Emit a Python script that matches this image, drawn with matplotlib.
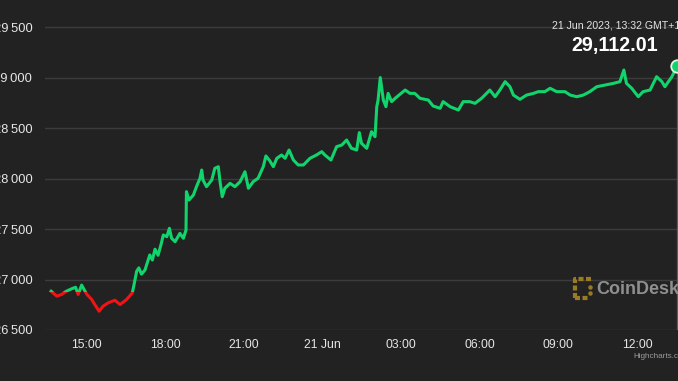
import matplotlib
matplotlib.use("Agg")
import matplotlib.pyplot as plt
import matplotlib.dates as mdates
from matplotlib.patches import Rectangle
import pandas as pd

# BTC price, 20-21 Jun 2023
times_20jun = ["13:38", "13:51", "14:02", "14:13", "14:25", "14:34", "14:40", "14:48", "14:55", "15:00",
               "15:11", "15:18", "15:28", "15:37", "15:49", "16:04", "16:16", "16:31", "16:44", "16:48",
               "16:54", "16:59", "17:05", "17:13", "17:24", "17:30", "17:36", "17:43", "17:50", "17:55",
               "18:03", "18:09", "18:14", "18:22", "18:33", "18:41", "18:47", "18:48", "18:54", "19:04",
               "19:11", "19:19", "19:23", "19:26", "19:34", "19:46", "19:53", "20:01", "20:05", "20:10",
               "20:16", "20:28", "20:39", "20:51", "21:02", "21:10", "21:21", "21:32", "21:44", "21:50",
               "21:59", "22:07", "22:15", "22:26", "22:34", "22:43", "22:53", "23:04", "23:16", "23:31",
               "23:46", "23:58"]
prices_20jun = [26884, 26835, 26852, 26884, 26908, 26923, 26852, 26945, 26889, 26852,
                26802, 26752, 26686, 26736, 26769, 26795, 26752, 26802, 26868, 26950,
                27082, 27115, 27053, 27094, 27243, 27193, 27300, 27240, 27350, 27441,
                27424, 27507, 27408, 27374, 27457, 27408, 27490, 27870, 27787, 27837,
                27919, 28002, 28084, 27985, 27919, 27985, 28101, 28117, 27969, 27820,
                27903, 27952, 27919, 27969, 28067, 27903, 27969, 28002, 28117, 28223,
                28175, 28117, 28200, 28233, 28200, 28282, 28183, 28134, 28134, 28200,
                28233, 28266]
times_21jun = ["00:05", "00:19", "00:32", "00:44", "00:55", "01:06", "01:18", "01:24", "01:29", "01:41",
               "01:52", "02:00", "02:04", "02:07", "02:12", "02:19", "02:25", "02:30", "02:38", "02:46",
               "02:55", "03:09", "03:20", "03:31", "03:43", "04:02", "04:13", "04:29", "04:36", "04:52",
               "05:11", "05:22", "05:37", "05:49", "06:04", "06:23", "06:35", "06:46", "06:58", "07:09",
               "07:17", "07:32", "07:47", "08:03", "08:14", "08:29", "08:41", "08:56", "09:15", "09:27",
               "09:42", "09:57", "10:12", "10:28", "10:47", "11:06", "11:21", "11:30", "11:36", "11:48",
               "12:03", "12:14", "12:30", "12:45", "12:57", "13:04", "13:12", "13:20", "13:32"]
prices_21jun = [28233, 28183, 28315, 28332, 28381, 28299, 28282, 28454, 28348, 28299,
                28464, 28414, 28711, 28777, 29000, 28777, 28711, 28843, 28761, 28794,
                28826, 28876, 28843, 28843, 28794, 28777, 28718, 28695, 28761, 28711,
                28678, 28761, 28761, 28744, 28794, 28876, 28810, 28876, 28959, 28909,
                28826, 28784, 28826, 28843, 28860, 28860, 28893, 28860, 28860, 28826,
                28810, 28826, 28860, 28909, 28926, 28942, 28959, 29074, 28942, 28893,
                28810, 28860, 28876, 29008, 28959, 28909, 28959, 29008, 29112.01]
open_price = 26875  # colour switches green/red around the opening level

yticks = [26500, 27000, 27500, 28000, 28500, 29000, 29500]
ytick_labels = ["26\u2009500", "27\u2009000", "27\u2009500", "28\u2009000",
                "28\u2009500", "29\u2009000", "29\u2009500"]
xtick_times = ["2023-06-20 15:00", "2023-06-20 18:00", "2023-06-20 21:00", "2023-06-21 00:00",
               "2023-06-21 03:00", "2023-06-21 06:00", "2023-06-21 09:00", "2023-06-21 12:00"]
xtick_labels = ["15:00", "18:00", "21:00", "21 Jun", "03:00", "06:00", "09:00", "12:00"]

BG = "#222222"
GREEN = "#12d46c"
RED = "#f01414"
FONT = ["Liberation Sans", "DejaVu Sans"]

t = pd.to_datetime(["2023-06-20 " + s for s in times_20jun] + ["2023-06-21 " + s for s in times_21jun])
p = prices_20jun + prices_21jun
x = mdates.date2num(t)

W, H = 678, 381
fig = plt.figure(figsize=(W / 100, H / 100), dpi=100, facecolor=BG)
ax = fig.add_axes([45 / W, (H - 330) / H, (W - 45) / W, 325 / H])
ax.set_facecolor(BG)

x0 = mdates.date2num(pd.Timestamp("2023-06-20 13:24"))
x1 = mdates.date2num(pd.Timestamp("2023-06-21 13:34"))
ax.set_xlim(x0, x1)
ax.set_ylim(26500, 29718)

for yv in yticks:
    ax.axhline(yv, color="#3c3c3c", lw=1, zorder=1)

# price line, coloured by zone above / below opening level
for col, lo, hi in [(GREEN, open_price, 40000), (RED, 0, open_price)]:
    ln, = ax.plot(x, p, color=col, lw=2.2, solid_joinstyle="round", zorder=3)
    clip = Rectangle((x0, lo), x1 - x0, hi - lo, transform=ax.transData)
    ln.set_clip_path(clip)

# crosshair + last point
ax.plot([x[-1], x[-1]], [26500, p[-1]], color="#5a5a5a", lw=1, zorder=2)
ax.plot(x[-1], p[-1], "o", ms=9, mfc=GREEN, mec="#e0f5e8", mew=1.3, zorder=4, clip_on=False)

ax.set_yticks(yticks)
ax.set_yticklabels(ytick_labels)
ax.set_xticks(mdates.date2num(pd.to_datetime(xtick_times)))
ax.set_xticklabels(xtick_labels)
ax.tick_params(axis="y", length=0, pad=9.1, labelsize=9.3, labelcolor="#e6e6e6")
ax.tick_params(axis="x", length=0, pad=6.5, labelsize=8.8, labelcolor="#e6e6e6")
for lab in ax.get_xticklabels() + ax.get_yticklabels():
    lab.set_family(FONT)
for s in ax.spines.values():
    s.set_visible(False)


def fx(px, py):
    return px / W, 1 - py / H


fig.text(*fx(552, 25), "21 Jun 2023, 13:32 GMT+1", color="#e2e2e2", fontsize=7.6,
         family=FONT, ha="left", va="center")
fig.text(*fx(571, 45), "29,112.01", color="#ffffff", fontsize=14.2, fontweight="bold",
         family=FONT, ha="left", va="center")

# CoinDesk watermark
gold = "#9a7a22"
fig.add_artist(plt.Line2D([575 / W, 575 / W, 593 / W], [1 - 298 / H, 1 - 279 / H, 1 - 279 / H],
                          color=gold, lw=3, transform=fig.transFigure, linestyle=(0, (1.2, 0.6))))
fig.add_artist(plt.Line2D([575 / W, 588 / W], [1 - 298 / H, 1 - 298 / H],
                          color=gold, lw=3, transform=fig.transFigure, linestyle=(0, (1.2, 0.6))))
for dy in (287, 293):
    fig.add_artist(plt.Line2D([590 / W], [1 - dy / H], marker="o", ms=2.2, color=gold,
                              transform=fig.transFigure))
fig.text(*fx(596, 289), "CoinDesk", color="#8f8f8f", fontsize=13, fontweight="bold",
         family=FONT, ha="left", va="center")

fig.text(*fx(633, 357), "Highcharts.com", color="#9a9a9a", fontsize=5.9,
         family=FONT, ha="left", va="center")

fig.savefig("out.png", dpi=100, facecolor=BG)
